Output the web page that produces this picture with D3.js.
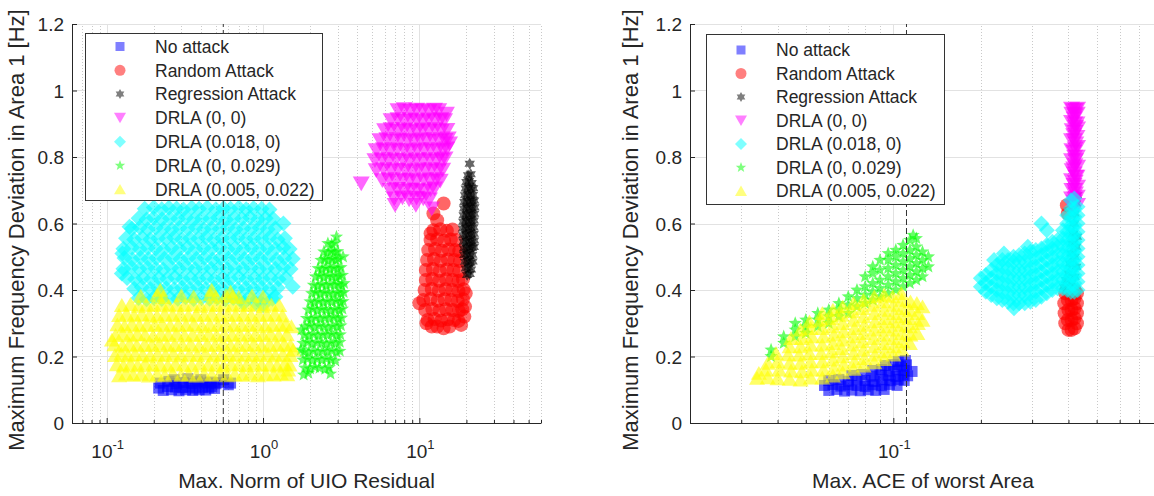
<!DOCTYPE html>
<html><head><meta charset="utf-8">
<script src="https://cdn.jsdelivr.net/npm/d3@7"></script>
<style>
body{margin:0;background:#fff}
svg{display:block}
text{font-family:"Liberation Sans",Arial,Helvetica,sans-serif;fill:#262626}
</style>
</head><body>
<svg id="chart" width="1154" height="496"></svg>
<script>
// ---------- categories / labels ----------
const seriesNames = ["No attack","Random Attack","Regression Attack","DRLA (0, 0)","DRLA (0.018, 0)","DRLA (0, 0.029)","DRLA (0.005, 0.022)"];
const yTicks = [0,0.2,0.4,0.6,0.8,1,1.2];
const yTickLabels = ["0","0.2","0.4","0.6","0.8","1","1.2"];
const xMajorLeft = [0.1,1,10];
const xMajorLeftExp = ["-1","0","1"];
const xMajorRight = [0.1];
const xMajorRightExp = ["-1"];
const xDomainLeft = [0.06,60];
const xDomainRight = [0.02,0.8];
const yDomain = [0,1.2];
const thresholdLeft = 0.557;
const thresholdRight = 0.111;
const xLabelLeft = "Max. Norm of UIO Residual";
const xLabelRight = "Max. ACE of worst Area";
const yLabel = "Maximum Frequency Deviation in Area 1 [Hz]";

// ---------- left panel data (x, y) ----------
const noAttackL = [[0.215,0.105],[0.23,0.098],[0.245,0.11],[0.26,0.1],[0.275,0.108],[0.29,0.097],[0.305,0.106],[0.32,0.1],[0.34,0.108],[0.355,0.098],[0.37,0.105],[0.39,0.1],[0.41,0.108],[0.43,0.099],[0.45,0.106],[0.47,0.11],[0.49,0.104],[0.22,0.12],[0.25,0.125],[0.28,0.118],[0.31,0.122],[0.35,0.119],[0.38,0.124],[0.42,0.12],[0.46,0.123],[0.5,0.118],[0.53,0.122],[0.6,0.115],[0.62,0.12],[0.27,0.13],[0.33,0.133],[0.4,0.13],[0.56,0.13]];
const randomL = [[14.3,0.66],[12.3,0.63],[13.0,0.61],[11.8,0.57],
[12.3,0.58],[13.6,0.583],[15.0,0.578],[16.3,0.582],
[11.8,0.55],[13.0,0.553],[14.4,0.548],[15.9,0.552],[17.2,0.55],
[11.4,0.52],[12.6,0.523],[13.9,0.518],[15.4,0.522],[16.9,0.52],[18.0,0.517],
[11.2,0.49],[12.4,0.493],[13.7,0.488],[15.2,0.492],[16.7,0.49],[18.2,0.487],
[11.0,0.46],[12.2,0.463],[13.5,0.458],[15.0,0.462],[16.5,0.46],[18.0,0.457],
[11.0,0.43],[12.1,0.433],[13.4,0.428],[14.8,0.432],[16.3,0.43],[17.8,0.427],[19.0,0.432],
[10.8,0.4],[12.0,0.403],[13.3,0.398],[14.7,0.402],[16.2,0.4],[17.8,0.397],[19.2,0.402],
[10.6,0.37],[11.8,0.373],[13.1,0.368],[14.5,0.372],[16.0,0.37],[17.6,0.367],[19.0,0.372],
[10.9,0.34],[12.1,0.343],[13.4,0.338],[14.8,0.342],[16.3,0.34],[17.9,0.337],[18.8,0.342],
[11.3,0.31],[12.5,0.313],[13.8,0.308],[15.2,0.312],[16.7,0.31],[17.8,0.307],
[13.0,0.29],[14.3,0.285],[15.6,0.29],[10.0,0.36],[11.1,0.3],
[19.6,0.35],[19.4,0.32],[18.5,0.295],[12.0,0.29],[19.8,0.39]];
const regressionL = [[20.5,0.745],[21.3,0.748],
[20.0,0.725],[20.8,0.728],[21.6,0.722],
[19.8,0.705],[20.6,0.708],[21.4,0.702],[22.1,0.706],
[19.6,0.685],[20.4,0.688],[21.2,0.682],[22.0,0.686],
[19.4,0.665],[20.2,0.668],[21.0,0.662],[21.8,0.666],[22.4,0.669],
[19.3,0.645],[20.1,0.648],[20.9,0.642],[21.7,0.646],[22.5,0.649],
[19.2,0.625],[20.0,0.628],[20.8,0.622],[21.6,0.626],[22.4,0.629],
[19.1,0.605],[19.9,0.608],[20.7,0.602],[21.5,0.606],[22.3,0.609],
[19.0,0.585],[19.8,0.588],[20.6,0.582],[21.4,0.586],[22.2,0.589],
[19.1,0.565],[19.9,0.568],[20.7,0.562],[21.5,0.566],[22.3,0.569],
[19.2,0.545],[20.0,0.548],[20.8,0.542],[21.6,0.546],[22.4,0.549],
[19.3,0.525],[20.1,0.528],[20.9,0.522],[21.7,0.526],[22.3,0.529],
[19.4,0.505],[20.2,0.508],[21.0,0.502],[21.8,0.506],
[19.6,0.485],[20.4,0.488],[21.2,0.482],[21.9,0.486],
[19.8,0.465],[20.6,0.468],[21.4,0.462],
[20.2,0.445],[21.0,0.448],[21.0,0.78]];
const drla00L = [[7.3,0.94],[8.0,0.943],[8.8,0.938],[9.6,0.942],[10.5,0.94],[11.5,0.937],[12.5,0.942],[13.3,0.94],
[6.6,0.91],[7.3,0.913],[8.0,0.908],[8.8,0.912],[9.6,0.91],[10.5,0.907],[11.5,0.912],[12.6,0.909],[13.7,0.913],[14.5,0.91],
[6.0,0.88],[6.6,0.883],[7.3,0.878],[8.0,0.882],[8.8,0.88],[9.6,0.877],[10.5,0.882],[11.5,0.879],[12.6,0.883],[13.8,0.878],[15.0,0.881],
[5.6,0.85],[6.2,0.853],[6.9,0.848],[7.6,0.852],[8.4,0.85],[9.2,0.847],[10.1,0.852],[11.1,0.849],[12.2,0.853],[13.4,0.848],[14.6,0.851],[15.3,0.855],
[5.3,0.82],[5.9,0.823],[6.5,0.818],[7.2,0.822],[8.0,0.82],[8.8,0.817],[9.7,0.822],[10.7,0.819],[11.8,0.823],[13.0,0.818],[14.2,0.821],[15.0,0.825],
[5.2,0.79],[5.8,0.793],[6.4,0.788],[7.1,0.792],[7.9,0.79],[8.7,0.787],[9.6,0.792],[10.6,0.789],[11.7,0.793],[12.9,0.788],[14.0,0.791],[14.6,0.795],
[5.3,0.76],[5.9,0.763],[6.6,0.758],[7.3,0.762],[8.1,0.76],[9.0,0.757],[9.9,0.762],[10.9,0.759],[12.0,0.763],[13.2,0.758],[14.1,0.761],
[5.8,0.73],[6.4,0.733],[7.1,0.728],[7.9,0.732],[8.7,0.73],[9.6,0.727],[10.6,0.732],[11.7,0.729],[12.8,0.733],[13.6,0.728],
[6.5,0.7],[7.2,0.703],[8.0,0.698],[8.8,0.702],[9.7,0.7],[10.7,0.697],[11.8,0.702],[12.5,0.705],
[6.9,0.675],[7.8,0.678],[8.6,0.672],[9.6,0.677],[10.6,0.675],[11.6,0.672],
[9.5,0.655],[12.0,0.645],[4.25,0.72],[15.6,0.84],[14.9,0.93],[7.0,0.655]];
const drla018L = [[0.16,0.376],[0.18,0.372],[0.2,0.377],[0.225,0.373],[0.255,0.376],[0.285,0.374],[0.32,0.378],[0.36,0.373],[0.405,0.376],[0.455,0.374],[0.51,0.377],[0.575,0.372],[0.645,0.376],[0.725,0.374],[0.815,0.378],[0.92,0.373],[1.03,0.376],[1.15,0.374],
[0.15,0.404],[0.168,0.408],[0.19,0.403],[0.213,0.407],[0.24,0.405],[0.27,0.402],[0.303,0.407],[0.34,0.404],[0.383,0.408],[0.43,0.403],[0.485,0.406],[0.545,0.404],[0.61,0.408],[0.69,0.403],[0.775,0.406],[0.87,0.404],[0.98,0.407],[1.1,0.403],[1.24,0.406],[1.55,0.41],
[0.135,0.436],[0.152,0.432],[0.171,0.437],[0.192,0.433],[0.216,0.436],[0.243,0.434],[0.273,0.438],[0.307,0.433],[0.345,0.436],[0.388,0.434],[0.437,0.437],[0.49,0.432],[0.552,0.436],[0.62,0.434],[0.7,0.438],[0.785,0.433],[0.885,0.436],[0.995,0.434],[1.12,0.437],[1.26,0.432],[1.4,0.436],
[0.128,0.464],[0.144,0.468],[0.162,0.463],[0.182,0.467],[0.205,0.465],[0.23,0.462],[0.259,0.467],[0.291,0.464],[0.328,0.468],[0.368,0.463],[0.414,0.466],[0.466,0.464],[0.524,0.468],[0.59,0.463],[0.663,0.466],[0.745,0.464],[0.84,0.467],[0.945,0.463],[1.06,0.466],[1.2,0.464],[1.35,0.468],[1.5,0.463],
[0.13,0.496],[0.146,0.492],[0.165,0.497],[0.185,0.493],[0.208,0.496],[0.234,0.494],[0.264,0.498],[0.296,0.493],[0.333,0.496],[0.375,0.494],[0.422,0.497],[0.475,0.492],[0.534,0.496],[0.6,0.494],[0.675,0.498],[0.76,0.493],[0.855,0.496],[0.96,0.494],[1.08,0.497],[1.22,0.492],[1.37,0.496],[1.55,0.494],
[0.128,0.524],[0.145,0.528],[0.163,0.523],[0.183,0.527],[0.206,0.525],[0.232,0.522],[0.261,0.527],[0.293,0.524],[0.33,0.528],[0.371,0.523],[0.418,0.526],[0.47,0.524],[0.528,0.528],[0.594,0.523],[0.668,0.526],[0.752,0.524],[0.846,0.527],[0.95,0.523],[1.07,0.526],[1.2,0.524],[1.35,0.528],[1.48,0.523],
[0.133,0.556],[0.15,0.552],[0.169,0.557],[0.19,0.553],[0.213,0.556],[0.24,0.554],[0.27,0.558],[0.303,0.553],[0.341,0.556],[0.384,0.554],[0.432,0.557],[0.486,0.552],[0.546,0.556],[0.615,0.554],[0.69,0.558],[0.777,0.553],[0.875,0.556],[0.98,0.554],[1.1,0.557],[1.24,0.552],[1.38,0.556],
[0.145,0.584],[0.163,0.588],[0.183,0.583],[0.206,0.587],[0.232,0.585],[0.261,0.582],[0.293,0.587],[0.33,0.584],[0.371,0.588],[0.418,0.583],[0.47,0.586],[0.528,0.584],[0.594,0.588],[0.668,0.583],[0.752,0.586],[0.846,0.584],[0.95,0.587],[1.07,0.583],[1.2,0.586],[1.35,0.6],
[0.16,0.616],[0.18,0.612],[0.2,0.617],[0.226,0.613],[0.254,0.616],[0.286,0.614],[0.322,0.618],[0.362,0.613],[0.407,0.616],[0.458,0.614],[0.515,0.617],[0.58,0.612],[0.652,0.616],[0.733,0.614],[0.825,0.618],[0.93,0.613],[1.04,0.616],[1.16,0.614],
[0.175,0.644],[0.2,0.648],[0.225,0.643],[0.25,0.647],[0.28,0.645],[0.31,0.642],[0.35,0.647],[0.39,0.644],[0.44,0.648],[0.5,0.643],[0.56,0.646],[0.62,0.644],[0.7,0.647],[0.78,0.643],[0.87,0.646],[0.98,0.644],[1.1,0.642],
[0.125,0.45],[0.126,0.51],[0.14,0.59],[0.9,0.36],[1.0,0.355],[0.75,0.36],[1.2,0.38]];
const drla029L = [[1.82,0.145],[1.95,0.15],[2.7,0.148],
[1.85,0.166],[2.0,0.163],[2.15,0.168],[2.3,0.165],[2.5,0.162],[2.65,0.167],
[1.8,0.19],[1.93,0.193],[2.07,0.188],[2.22,0.192],[2.38,0.189],[2.55,0.193],[2.72,0.19],[2.9,0.187],
[1.82,0.215],[1.95,0.212],[2.09,0.217],[2.24,0.213],[2.4,0.216],[2.57,0.214],[2.75,0.218],[2.95,0.213],[3.1,0.216],
[1.8,0.24],[1.93,0.243],[2.07,0.238],[2.22,0.242],[2.38,0.24],[2.55,0.237],[2.73,0.242],[2.92,0.239],[3.1,0.243],
[1.83,0.265],[1.96,0.262],[2.1,0.267],[2.25,0.263],[2.41,0.266],[2.58,0.264],[2.76,0.268],[2.95,0.263],[3.12,0.266],
[1.86,0.29],[1.99,0.293],[2.13,0.288],[2.28,0.292],[2.44,0.29],[2.61,0.287],[2.79,0.292],[2.98,0.289],[3.15,0.293],
[1.9,0.315],[2.03,0.312],[2.17,0.317],[2.32,0.313],[2.48,0.316],[2.65,0.314],[2.83,0.318],[3.02,0.313],[3.18,0.316],
[1.95,0.34],[2.08,0.343],[2.22,0.338],[2.37,0.342],[2.53,0.34],[2.7,0.337],[2.88,0.342],[3.07,0.339],[3.22,0.343],
[2.0,0.365],[2.13,0.362],[2.27,0.367],[2.42,0.363],[2.58,0.366],[2.75,0.364],[2.93,0.368],[3.12,0.363],[3.25,0.366],
[2.05,0.39],[2.18,0.393],[2.32,0.388],[2.47,0.392],[2.63,0.39],[2.8,0.387],[2.98,0.392],[3.15,0.389],[3.28,0.393],
[2.1,0.415],[2.24,0.412],[2.38,0.417],[2.53,0.413],[2.69,0.416],[2.86,0.414],[3.03,0.418],[3.18,0.413],[3.3,0.42],
[2.17,0.44],[2.3,0.443],[2.45,0.438],[2.6,0.442],[2.76,0.44],[2.92,0.437],[3.08,0.442],[3.22,0.445],
[2.25,0.465],[2.39,0.462],[2.53,0.467],[2.68,0.463],[2.84,0.466],[3.0,0.464],[3.15,0.468],
[2.35,0.49],[2.48,0.493],[2.62,0.488],[2.77,0.492],[2.92,0.49],[3.05,0.494],[3.25,0.5],
[2.45,0.515],[2.6,0.512],[2.74,0.517],[2.88,0.513],[3.0,0.516],
[2.6,0.54],[2.75,0.537],[2.9,0.542],[2.95,0.56],[1.75,0.22],[1.76,0.28]];
const drla005L = [[0.12,0.143],[0.133,0.148],[0.148,0.144],[0.166,0.147],[0.186,0.142],[0.21,0.146],[0.235,0.143],[0.265,0.148],[0.3,0.144],[0.335,0.146],[0.375,0.142],[0.42,0.147],[0.47,0.144],[0.53,0.148],[0.59,0.143],[0.66,0.146],[0.74,0.144],[0.83,0.148],[0.93,0.143],[1.04,0.147],[1.17,0.145],[1.3,0.149],[1.43,0.146],
[0.116,0.176],[0.128,0.172],[0.142,0.177],[0.158,0.173],[0.176,0.178],[0.197,0.174],[0.22,0.176],[0.246,0.172],[0.275,0.177],[0.31,0.175],[0.35,0.173],[0.395,0.178],[0.445,0.174],[0.5,0.176],[0.56,0.172],[0.625,0.177],[0.7,0.175],[0.785,0.173],[0.88,0.178],[0.98,0.174],[1.1,0.176],[1.23,0.172],[1.37,0.177],[1.48,0.175],
[0.113,0.204],[0.124,0.208],[0.137,0.203],[0.152,0.207],[0.17,0.205],[0.19,0.202],[0.212,0.207],[0.238,0.204],[0.267,0.208],[0.3,0.203],[0.338,0.206],[0.38,0.204],[0.43,0.208],[0.485,0.203],[0.545,0.206],[0.61,0.204],[0.685,0.207],[0.77,0.203],[0.86,0.206],[0.96,0.204],[1.08,0.208],[1.2,0.203],[1.34,0.206],[1.5,0.204],
[0.112,0.236],[0.126,0.232],[0.14,0.237],[0.156,0.233],[0.175,0.236],[0.195,0.234],[0.218,0.238],[0.244,0.233],[0.273,0.236],[0.305,0.234],[0.345,0.237],[0.39,0.232],[0.44,0.236],[0.495,0.234],[0.555,0.238],[0.62,0.233],[0.695,0.236],[0.78,0.234],[0.875,0.237],[0.98,0.232],[1.1,0.236],[1.23,0.234],[1.37,0.237],[1.5,0.233],
[0.114,0.264],[0.127,0.268],[0.141,0.263],[0.157,0.267],[0.176,0.265],[0.198,0.262],[0.222,0.267],[0.248,0.264],[0.28,0.268],[0.315,0.263],[0.355,0.266],[0.4,0.264],[0.45,0.268],[0.505,0.263],[0.565,0.266],[0.635,0.264],[0.71,0.267],[0.8,0.263],[0.895,0.266],[1.0,0.264],[1.12,0.268],[1.26,0.263],[1.42,0.266],
[0.117,0.296],[0.13,0.292],[0.145,0.297],[0.162,0.293],[0.181,0.296],[0.203,0.294],[0.227,0.298],[0.255,0.293],[0.287,0.296],[0.322,0.294],[0.362,0.297],[0.407,0.292],[0.457,0.296],[0.514,0.294],[0.577,0.298],[0.648,0.293],[0.727,0.296],[0.815,0.294],[0.915,0.297],[1.03,0.292],[1.15,0.296],[1.29,0.294],[1.4,0.297],
[0.12,0.324],[0.134,0.328],[0.15,0.323],[0.168,0.327],[0.188,0.325],[0.21,0.322],[0.235,0.327],[0.264,0.324],[0.296,0.328],[0.333,0.323],[0.374,0.326],[0.42,0.324],[0.472,0.328],[0.53,0.323],[0.595,0.326],[0.668,0.324],[0.75,0.327],[0.84,0.323],[0.945,0.326],[1.06,0.324],[1.19,0.327],[1.33,0.323],
[0.125,0.354],[0.142,0.357],[0.16,0.352],[0.18,0.356],[0.2,0.354],[0.225,0.358],[0.25,0.353],[0.28,0.356],[0.315,0.354],[0.355,0.357],[0.4,0.352],[0.45,0.356],[0.505,0.354],[0.567,0.358],[0.637,0.353],[0.715,0.356],[0.8,0.354],[0.9,0.357],[1.01,0.352],[1.13,0.356],[1.27,0.354],
[0.165,0.382],[0.21,0.385],[0.23,0.378],[0.3,0.383],[0.36,0.38],[0.46,0.386],[0.5,0.379],[0.58,0.384],[0.64,0.381],[0.7,0.378],[0.85,0.383],[1.0,0.38],[0.22,0.4],[0.47,0.4],[0.62,0.395],
[1.56,0.22],[1.52,0.29],[0.108,0.25],[1.45,0.16]];

// ---------- right panel data (x, y) ----------
const noAttackR = [[0.06,0.098],[0.064,0.101],[0.068,0.096],[0.072,0.099],[0.077,0.097],[0.082,0.1],[0.087,0.098],[0.093,0.101],
[0.058,0.113],[0.062,0.116],[0.066,0.111],[0.07,0.115],[0.075,0.113],[0.08,0.11],[0.085,0.115],[0.091,0.112],[0.097,0.116],[0.103,0.113],
[0.06,0.128],[0.065,0.131],[0.07,0.126],[0.075,0.13],[0.08,0.128],[0.086,0.125],[0.092,0.13],[0.098,0.127],[0.104,0.131],[0.109,0.128],
[0.072,0.143],[0.078,0.146],[0.084,0.141],[0.09,0.145],[0.096,0.143],[0.102,0.14],[0.108,0.145],[0.112,0.142],
[0.085,0.158],[0.091,0.161],[0.097,0.156],[0.103,0.16],[0.109,0.158],[0.116,0.155],
[0.094,0.173],[0.1,0.176],[0.106,0.171],[0.111,0.175],[0.104,0.185],[0.11,0.188]];
const randomR = [[0.39,0.3],[0.388,0.33],[0.387,0.36],[0.39,0.39],
[0.4,0.28],[0.398,0.31],[0.4,0.34],[0.398,0.37],[0.4,0.4],
[0.41,0.28],[0.41,0.31],[0.41,0.34],[0.41,0.37],[0.41,0.4],
[0.42,0.285],[0.42,0.315],[0.42,0.345],[0.42,0.375],[0.42,0.4],
[0.428,0.3],[0.428,0.33],[0.428,0.36],[0.428,0.39],[0.395,0.655],[0.398,0.63]];
const regressionR = [[0.386,0.41],[0.392,0.43],[0.4,0.45],[0.405,0.48],[0.41,0.51],[0.412,0.54],[0.415,0.57],[0.418,0.6],[0.42,0.63],[0.425,0.66],[0.428,0.685],[0.41,0.42],[0.42,0.44],[0.425,0.47],[0.42,0.5],[0.425,0.53],[0.428,0.56]];
const drla00R = [[0.416,0.94],[0.424,0.942],[0.418,0.915],[0.423,0.89],[0.417,0.865],[0.424,0.84],[0.418,0.815],[0.423,0.79],[0.417,0.765],[0.424,0.74],[0.418,0.715],[0.423,0.69],[0.419,0.665],
[0.422,0.925],[0.42,0.9],[0.421,0.875],[0.419,0.85],[0.422,0.825],[0.42,0.8],[0.421,0.775],[0.419,0.75],[0.422,0.725],[0.42,0.7],[0.421,0.675],
[0.411,0.93],[0.429,0.93],[0.412,0.88],[0.428,0.86],[0.411,0.82],[0.429,0.8],[0.412,0.76],[0.428,0.74],[0.411,0.7],[0.429,0.68],[0.412,0.65],[0.428,0.9],
[0.41,0.905],[0.43,0.885],[0.41,0.85],[0.43,0.83],[0.41,0.79],[0.43,0.77],[0.41,0.73],[0.43,0.71],[0.41,0.675],[0.43,0.655],[0.43,0.945],[0.41,0.945]];
const drla018R = [[0.2,0.41],[0.2,0.435],
[0.208,0.395],[0.208,0.42],[0.208,0.445],
[0.217,0.385],[0.217,0.41],[0.217,0.435],[0.217,0.46],
[0.227,0.375],[0.227,0.4],[0.227,0.425],[0.227,0.45],[0.227,0.475],
[0.237,0.37],[0.237,0.395],[0.237,0.42],[0.237,0.445],[0.237,0.47],[0.237,0.49],
[0.248,0.365],[0.248,0.39],[0.248,0.415],[0.248,0.44],[0.248,0.465],[0.248,0.49],
[0.259,0.36],[0.259,0.385],[0.259,0.41],[0.259,0.435],[0.259,0.46],[0.259,0.485],[0.259,0.5],
[0.271,0.36],[0.271,0.385],[0.271,0.41],[0.271,0.435],[0.271,0.46],[0.271,0.485],[0.271,0.505],
[0.283,0.36],[0.283,0.385],[0.283,0.41],[0.283,0.435],[0.283,0.46],[0.283,0.485],[0.283,0.51],
[0.296,0.365],[0.296,0.39],[0.296,0.415],[0.296,0.44],[0.296,0.465],[0.296,0.49],[0.296,0.515],
[0.309,0.37],[0.309,0.395],[0.309,0.42],[0.309,0.445],[0.309,0.47],[0.309,0.495],[0.309,0.52],
[0.323,0.38],[0.323,0.405],[0.323,0.43],[0.323,0.455],[0.323,0.48],[0.323,0.505],[0.323,0.525],[0.323,0.6],
[0.337,0.39],[0.337,0.415],[0.337,0.44],[0.337,0.465],[0.337,0.49],[0.337,0.515],[0.337,0.535],[0.337,0.58],
[0.352,0.4],[0.352,0.425],[0.352,0.45],[0.352,0.475],[0.352,0.5],[0.352,0.525],[0.352,0.545],
[0.367,0.405],[0.367,0.43],[0.367,0.455],[0.367,0.48],[0.367,0.505],[0.367,0.53],[0.367,0.55],
[0.383,0.405],[0.383,0.43],[0.383,0.455],[0.383,0.48],[0.383,0.505],[0.383,0.53],[0.383,0.555],[0.383,0.58],
[0.396,0.4],[0.396,0.425],[0.396,0.45],[0.396,0.475],[0.396,0.5],[0.396,0.525],[0.396,0.55],[0.396,0.575],[0.396,0.6],[0.396,0.625],
[0.408,0.395],[0.408,0.42],[0.408,0.445],[0.408,0.47],[0.408,0.495],[0.408,0.52],[0.408,0.545],[0.408,0.57],[0.408,0.595],[0.408,0.62],[0.408,0.645],[0.408,0.67],
[0.419,0.395],[0.419,0.42],[0.419,0.445],[0.419,0.47],[0.419,0.495],[0.419,0.52],[0.419,0.545],[0.419,0.57],[0.419,0.595],[0.419,0.62],[0.419,0.645],[0.419,0.675],
[0.43,0.4],[0.43,0.425],[0.43,0.45],[0.43,0.475],[0.43,0.5],[0.43,0.525],[0.43,0.55],[0.43,0.575],[0.43,0.6],[0.43,0.625],[0.43,0.65],
[0.222,0.49],[0.24,0.51],[0.29,0.53],[0.26,0.345]];
const drla029R = [[0.038,0.2],[0.038,0.22],[0.042,0.24],[0.042,0.26],
[0.046,0.26],[0.046,0.28],[0.046,0.3],[0.05,0.27],[0.05,0.29],[0.05,0.31],
[0.055,0.29],[0.055,0.31],[0.055,0.33],[0.06,0.3],[0.06,0.32],[0.06,0.34],
[0.065,0.32],[0.065,0.34],[0.065,0.36],[0.07,0.33],[0.07,0.355],[0.07,0.38],
[0.075,0.35],[0.075,0.375],[0.075,0.4],[0.08,0.36],[0.08,0.385],[0.08,0.41],[0.08,0.44],
[0.085,0.37],[0.085,0.395],[0.085,0.42],[0.085,0.45],[0.085,0.47],
[0.09,0.38],[0.09,0.405],[0.09,0.43],[0.09,0.46],[0.09,0.49],
[0.096,0.39],[0.096,0.415],[0.096,0.44],[0.096,0.465],[0.096,0.49],[0.096,0.51],
[0.102,0.4],[0.102,0.425],[0.102,0.45],[0.102,0.475],[0.102,0.5],[0.102,0.52],
[0.108,0.41],[0.108,0.435],[0.108,0.46],[0.108,0.485],[0.108,0.51],[0.108,0.535],
[0.114,0.42],[0.114,0.445],[0.114,0.47],[0.114,0.495],[0.114,0.52],[0.114,0.55],
[0.12,0.43],[0.12,0.455],[0.12,0.48],[0.12,0.505],[0.12,0.53],[0.12,0.555],
[0.126,0.44],[0.126,0.465],[0.126,0.49],[0.126,0.515],[0.132,0.47],[0.132,0.5],[0.117,0.565]];
const drla005R = [[0.034,0.135],[0.0345,0.15],
[0.037,0.137],[0.0365,0.16],[0.037,0.18],
[0.04,0.134],[0.0405,0.16],[0.04,0.185],[0.0395,0.21],
[0.044,0.132],[0.0445,0.157],[0.044,0.18],[0.0435,0.206],[0.044,0.23],[0.0445,0.255],
[0.048,0.13],[0.0485,0.155],[0.048,0.18],[0.0475,0.205],[0.048,0.23],[0.0485,0.255],[0.048,0.28],
[0.052,0.136],[0.0525,0.16],[0.052,0.185],[0.0515,0.21],[0.052,0.235],[0.0525,0.26],[0.052,0.285],[0.0515,0.305],
[0.057,0.136],[0.0575,0.16],[0.057,0.185],[0.0565,0.21],[0.057,0.235],[0.0575,0.26],[0.057,0.285],[0.0565,0.31],[0.057,0.33],
[0.062,0.142],[0.0625,0.165],[0.062,0.19],[0.0615,0.215],[0.062,0.24],[0.0625,0.265],[0.062,0.29],[0.0615,0.315],[0.062,0.34],
[0.067,0.152],[0.0675,0.175],[0.067,0.2],[0.0665,0.225],[0.067,0.25],[0.0675,0.275],[0.067,0.3],[0.0665,0.325],[0.067,0.35],
[0.073,0.162],[0.0735,0.185],[0.073,0.21],[0.0725,0.235],[0.073,0.26],[0.0735,0.285],[0.073,0.31],[0.0725,0.335],[0.073,0.36],
[0.079,0.172],[0.0795,0.195],[0.079,0.22],[0.0785,0.245],[0.079,0.27],[0.0795,0.295],[0.079,0.32],[0.0785,0.345],[0.079,0.37],
[0.086,0.182],[0.0865,0.205],[0.086,0.23],[0.0855,0.255],[0.086,0.28],[0.0865,0.305],[0.086,0.33],[0.0855,0.355],[0.086,0.38],
[0.093,0.192],[0.0935,0.215],[0.093,0.24],[0.0925,0.265],[0.093,0.29],[0.0935,0.315],[0.093,0.34],[0.0925,0.365],[0.093,0.385],
[0.1,0.205],[0.1005,0.23],[0.1,0.255],[0.0995,0.28],[0.1,0.305],[0.1005,0.33],[0.1,0.355],[0.0995,0.38],
[0.107,0.22],[0.1075,0.245],[0.107,0.27],[0.1065,0.295],[0.107,0.32],[0.1075,0.345],[0.107,0.37],[0.1065,0.39],
[0.114,0.24],[0.1145,0.265],[0.114,0.29],[0.1135,0.315],[0.114,0.34],[0.1145,0.365],
[0.121,0.27],[0.1215,0.3],[0.121,0.33],[0.1205,0.36],[0.126,0.31],[0.126,0.35]];

// ---------- styles ----------
const seriesColors = ["#0000ff","#ff0000","#000000","#ff00ff","#00ffff","#00ff00","#ffff00"];
const seriesShapes = ["square","circle","hexagram","triDown","diamond","pentagram","triUp"];
const markerSizes = [11,14,12,17,16,14,16];
const legendSizes = [9,11,10,12,12,11,12];

function poly(pts){return "M"+pts.map(p=>p[0].toFixed(2)+","+p[1].toFixed(2)).join("L")+"Z";}
function star(n,R,r){const pts=[];for(let i=0;i<2*n;i++){const a=-Math.PI/2+i*Math.PI/n;const rr=i%2?r:R;pts.push([rr*Math.cos(a),rr*Math.sin(a)]);}return poly(pts);}
const shapes = {
  square:s=>poly([[-s/2,-s/2],[s/2,-s/2],[s/2,s/2],[-s/2,s/2]]),
  circle:s=>{const r=s/2;return `M${r},0A${r},${r} 0 1,1 ${-r},0A${r},${r} 0 1,1 ${r},0Z`;},
  hexagram:s=>star(6,s/2,s/2*0.577),
  pentagram:s=>star(5,s/2,s/2*0.42),
  triUp:s=>poly([[0,-s*0.45],[s/2,s*0.42],[-s/2,s*0.42]]),
  triDown:s=>poly([[0,s*0.45],[s/2,-s*0.42],[-s/2,-s*0.42]]),
  diamond:s=>poly([[0,-s/2],[s/2,0],[0,s/2],[-s/2,0]])
};

const svg = d3.select("#chart");
const y = d3.scaleLinear().domain(yDomain).range([423,24]);
const TXT = "#262626";

const panels = [
  {xDomain:xDomainLeft, xRange:[72,541], majors:xMajorLeft, exps:xMajorLeftExp, threshold:thresholdLeft,
   xLabel:xLabelLeft, yLabelX:24,
   data:[noAttackL,randomL,regressionL,drla00L,drla018L,drla029L,drla005L],
   legend:{x:85,y:33,w:237,h:167,row0:46.5,rowH:23.8,mx:120,tx:155}},
  {xDomain:xDomainRight, xRange:[690,1156], majors:xMajorRight, exps:xMajorRightExp, threshold:thresholdRight,
   xLabel:xLabelRight, yLabelX:638,
   data:[noAttackR,randomR,regressionR,drla00R,drla018R,drla029R,drla005R],
   legend:{x:706,y:34,w:238,h:170,row0:50,rowH:23.5,mx:741,tx:776}}
];

panels.forEach(p=>{
  const x = d3.scaleLog().domain(p.xDomain).range(p.xRange);
  const g = svg.append("g");
  const x0=p.xRange[0], x1=p.xRange[1];
  const minors = x.ticks().filter(v=>!p.majors.some(m=>Math.abs(m-v)<1e-9));
  g.append("g").selectAll("line").data(minors).join("line")
    .attr("x1",d=>Math.round(x(d))+0.5).attr("x2",d=>Math.round(x(d))+0.5)
    .attr("y1",y(0)).attr("y2",y(1.2))
    .attr("stroke","#c9c9c9").attr("stroke-width",1).attr("stroke-dasharray","1,2");
  g.append("g").selectAll("line").data(p.majors).join("line")
    .attr("x1",d=>Math.round(x(d))+0.5).attr("x2",d=>Math.round(x(d))+0.5)
    .attr("y1",y(0)).attr("y2",y(1.2)).attr("stroke","#e2e2e2");
  g.append("g").selectAll("line").data(yTicks.slice(1)).join("line")
    .attr("x1",x0).attr("x2",x1).attr("y1",d=>Math.round(y(d))+0.5).attr("y2",d=>Math.round(y(d))+0.5)
    .attr("stroke","#e2e2e2");
  p.data.forEach((pts,i)=>{
    const path = shapes[seriesShapes[i]](markerSizes[i]);
    g.append("g").selectAll("path").data(pts).join("path")
      .attr("d",path)
      .attr("transform",d=>`translate(${x(d[0]).toFixed(2)},${y(d[1]).toFixed(2)})`)
      .attr("fill",seriesColors[i]).attr("fill-opacity",0.6);
  });
  g.append("line").attr("x1",x(p.threshold)).attr("x2",x(p.threshold))
    .attr("y1",y(0)).attr("y2",y(1.2)).attr("stroke","#333").attr("stroke-width",1).attr("stroke-dasharray","6,3");
  const ya = g.append("g").attr("transform",`translate(${x0},0)`)
    .call(d3.axisLeft(y).tickValues(yTicks).tickFormat((d,i)=>yTickLabels[i]).tickSizeInner(-5).tickSizeOuter(0).tickPadding(8));
  ya.selectAll("text").style("font-size","19px").attr("fill",TXT).attr("dy","0.35em");
  ya.selectAll("line,path").attr("stroke",TXT);
  const xa = g.append("g").attr("transform",`translate(0,${y(0)})`)
    .call(d3.axisBottom(x).tickValues(p.majors).tickFormat(()=>"").tickSizeInner(-5).tickSizeOuter(0));
  xa.selectAll("line,path").attr("stroke",TXT);
  const xm = g.append("g").attr("transform",`translate(0,${y(0)})`)
    .call(d3.axisBottom(x).tickValues(minors).tickFormat(()=>"").tickSizeInner(-3).tickSizeOuter(0));
  xm.select(".domain").remove();
  xm.selectAll("line").attr("stroke",TXT);
  p.majors.forEach((m,i)=>{
    const t = g.append("text").attr("x",x(m)+1).attr("y",458).attr("text-anchor","middle").style("font-size","19px");
    t.append("tspan").text("10");
    t.append("tspan").attr("dy",-9).style("font-size","13px").text(p.exps[i]);
  });
  g.append("text").attr("x",(x0+x1)/2).attr("y",488).attr("text-anchor","middle").style("font-size","21px").text(p.xLabel);
  g.append("text").attr("transform",`translate(${p.yLabelX},230) rotate(-90)`).attr("text-anchor","middle").style("font-size","22px").text(yLabel);
  const L = p.legend;
  const lg = g.append("g");
  lg.append("rect").attr("x",L.x+0.5).attr("y",L.y+0.5).attr("width",L.w).attr("height",L.h)
    .attr("fill","#fff").attr("stroke","#333").attr("stroke-width",1);
  seriesNames.forEach((name,i)=>{
    const cy = L.row0 + i*L.rowH;
    lg.append("path").attr("d",shapes[seriesShapes[i]](legendSizes[i]))
      .attr("transform",`translate(${L.mx},${cy})`).attr("fill",seriesColors[i]).attr("fill-opacity",0.5);
    lg.append("text").attr("x",L.tx).attr("y",cy).attr("dy","0.36em").style("font-size","17.5px").text(name);
  });
});
</script>
</body></html>
